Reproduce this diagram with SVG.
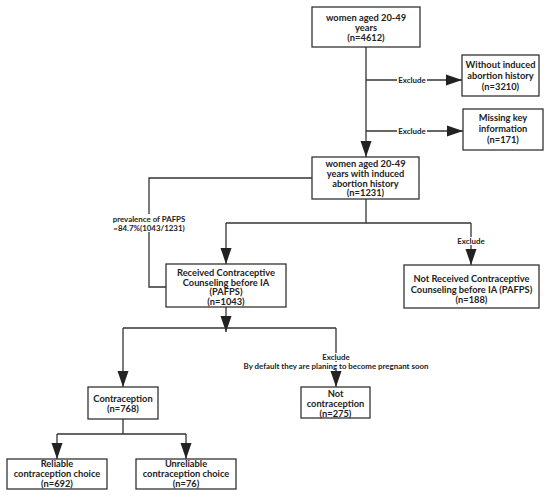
<svg xmlns="http://www.w3.org/2000/svg" width="550" height="497" viewBox="0 0 550 497">
<style>
.box{fill:#fff;stroke:#333;stroke-width:1.3}
.t{font-family:Lato,"Open Sans",sans-serif;font-weight:bold;font-size:9.3px;fill:#222;text-anchor:middle}
.s{font-family:Lato,"Open Sans",sans-serif;font-weight:bold;font-size:7.9px;fill:#222;text-anchor:middle}
.ln{fill:none;stroke:#333;stroke-width:1.3}
</style>
<defs>
<marker id="a" markerUnits="userSpaceOnUse" markerWidth="16" markerHeight="12" viewBox="0 0 16 12" refX="16" refY="6" orient="auto">
<path d="M0,0.5 L16,6 L0,11.5 Z" fill="#222"/>
</marker>
</defs>
<rect width="550" height="497" fill="#fff"/>
<g id="connectors">
<path class="ln" d="M366,47 V157" marker-end="url(#a)"/>
<path class="ln" d="M366,80 H462" marker-end="url(#a)"/>
<path class="ln" d="M366,131 H463" marker-end="url(#a)"/>
<path class="ln" d="M312,178 H149 V287 H166"/>
<path class="ln" d="M366,199 V223"/>
<path class="ln" d="M226,223 H471"/>
<path class="ln" d="M226,223 V264" marker-end="url(#a)"/>
<path class="ln" d="M471,223 V265" marker-end="url(#a)"/>
<path class="ln" d="M226,307 V332" marker-end="url(#a)"/>
<path class="ln" d="M123,328 H336"/>
<path class="ln" d="M123,328 V387" marker-end="url(#a)"/>
<path class="ln" d="M336,328 V387" marker-end="url(#a)"/>
<path class="ln" d="M123,419 V434 M57,434 H186"/>
<path class="ln" d="M57,434 V459" marker-end="url(#a)"/>
<path class="ln" d="M186,434 V459" marker-end="url(#a)"/>
<rect x="397" y="76" width="30" height="8" fill="#fff"/>
<text class="s" x="412" y="82.8">Exclude</text>
<rect x="397" y="127" width="30" height="8" fill="#fff"/>
<text class="s" x="412" y="133.8">Exclude</text>
<rect x="110" y="214" width="80" height="18" fill="#fff"/>
<text class="s" x="149" y="222">prevalence of PAFPS</text>
<text class="s" x="149" y="231">=84.7%(1043/1231)</text>
<rect x="456" y="237" width="30" height="8" fill="#fff"/>
<text class="s" x="471" y="243.8">Exclude</text>
<rect x="320" y="353" width="32" height="8" fill="#fff"/>
<text class="s" x="336" y="359.5">Exclude</text>
<rect x="240" y="362" width="192" height="8" fill="#fff"/>
<text class="s" x="336" y="368.8">By default they are planing to become pregnant soon</text>
</g>
<g id="n1"><rect class="box" x="312" y="7" width="108" height="40"/>
<text class="t" x="366" y="21">women aged 20-49</text><text class="t" x="366" y="31">years</text><text class="t" x="366" y="41">(n=4612)</text></g>
<g id="n2"><rect class="box" x="462" y="55" width="77" height="41"/>
<text class="t" x="500.5" y="68">Without induced</text><text class="t" x="500.5" y="79">abortion history</text><text class="t" x="500.5" y="90">(n=3210)</text></g>
<g id="n3"><rect class="box" x="463" y="109" width="80" height="41"/>
<text class="t" x="503" y="121">Missing key</text><text class="t" x="503" y="132">information</text><text class="t" x="503" y="143">(n=171)</text></g>
<g id="n4"><rect class="box" x="312" y="157" width="107" height="42"/>
<text class="t" x="365.5" y="167">women aged 20-49</text><text class="t" x="365.5" y="177">years with induced</text><text class="t" x="365.5" y="186.5">abortion history</text><text class="t" x="365.5" y="196">(n=1231)</text></g>
<g id="n5"><rect class="box" x="166" y="264" width="120" height="43"/>
<text class="t" x="226" y="276">Received Contraceptive</text><text class="t" x="226" y="285.5">Counseling before IA</text><text class="t" x="226" y="295">(PAFPS)</text><text class="t" x="226" y="304.5">(n=1043)</text></g>
<g id="n6"><rect class="box" x="404" y="265" width="135" height="43"/>
<text class="t" x="471.5" y="282">Not Received Contraceptive</text><text class="t" x="471.5" y="293">Counseling  before IA (PAFPS)</text><text class="t" x="471.5" y="303">(n=188)</text></g>
<g id="n7"><rect class="box" x="88" y="387" width="70" height="32"/>
<text class="t" x="123" y="402">Contraception</text><text class="t" x="123" y="411.5">(n=768)</text></g>
<g id="n8"><rect class="box" x="301" y="387" width="69" height="31"/>
<text class="t" x="335.5" y="397">Not</text><text class="t" x="335.5" y="407">contraception</text><text class="t" x="335.5" y="416.5">(n=275)</text></g>
<g id="n9"><rect class="box" x="7" y="459" width="100" height="30"/>
<text class="t" x="57" y="467">Reliable</text><text class="t" x="57" y="477">contraception choice</text><text class="t" x="57" y="487">(n=692)</text></g>
<g id="n10"><rect class="box" x="136" y="459" width="100" height="30"/>
<text class="t" x="186" y="467">Unreliable</text><text class="t" x="186" y="477">contraception choice</text><text class="t" x="186" y="487">(n=76)</text></g>
</svg>
